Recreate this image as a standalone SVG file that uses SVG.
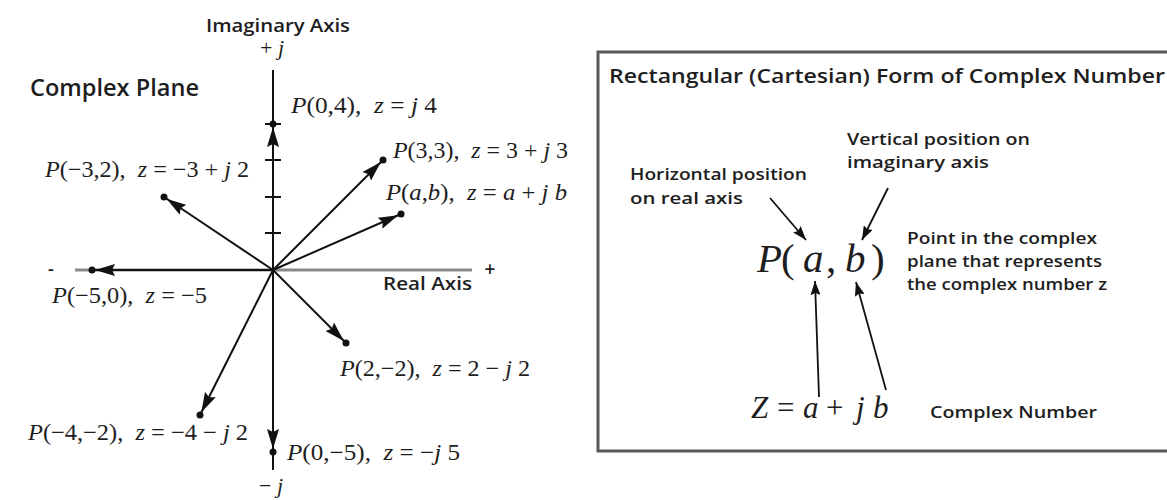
<svg xmlns="http://www.w3.org/2000/svg" width="1167" height="500" viewBox="0 0 1167 500">
<style>
.s{font-family:"Open Sans","Lato","DejaVu Sans",sans-serif;font-weight:600;fill:#1e1e1e}
.m{font-family:"Liberation Serif","Times New Roman",serif;font-size:23px;fill:#1e1e1e;white-space:pre}
.big{font-family:"Liberation Serif","Times New Roman",serif;font-size:41px;fill:#1e1e1e}
.eq{font-family:"Liberation Serif","Times New Roman",serif;font-size:31px;fill:#1e1e1e}
.i{font-style:italic}
.ax{stroke:#111;stroke-width:2;fill:none}
.rax{stroke:#8a8a8a;stroke-width:3;fill:none}
.vec{stroke:#111;stroke-width:2;fill:none;marker-end:url(#ah)}
.ptr{stroke:#111;stroke-width:1.8;fill:none;marker-end:url(#sh)}
.dot{fill:#111}
</style>
<defs>
<marker id="ah" markerUnits="userSpaceOnUse" markerWidth="24" markerHeight="12" refX="23" refY="6" orient="auto" viewBox="0 0 24 12">
<path d="M0,0 L20,6 L0,12 L3,6 z" fill="#111"/>
</marker>
<marker id="sh" markerUnits="userSpaceOnUse" markerWidth="15" markerHeight="10" refX="14" refY="5" orient="auto" viewBox="0 0 15 10">
<path d="M0,0 L14,5 L0,10 L2,5 z" fill="#111"/>
</marker>
</defs>
<rect width="1167" height="500" fill="#fff"/>

<g id="axes">
<line class="rax" x1="75" y1="270" x2="472" y2="270"/>
<line class="ax" x1="273" y1="70" x2="273" y2="470"/>
<line class="ax" x1="265" y1="124" x2="281" y2="124"/>
<line class="ax" x1="265" y1="160" x2="281" y2="160"/>
<line class="ax" x1="265" y1="197" x2="281" y2="197"/>
<line class="ax" x1="265" y1="233" x2="281" y2="233"/>
</g>

<g id="connectors">
<line class="vec" x1="273" y1="270" x2="273" y2="124"/>
<line class="vec" x1="273" y1="270" x2="383" y2="160"/>
<line class="vec" x1="273" y1="270" x2="164" y2="197"/>
<line class="vec" x1="273" y1="270" x2="401" y2="214"/>
<line class="vec" x1="273" y1="270" x2="92" y2="270"/>
<line class="vec" x1="273" y1="270" x2="346" y2="343"/>
<line class="vec" x1="273" y1="270" x2="200" y2="415"/>
<line class="vec" x1="273" y1="270" x2="273" y2="452"/>
<line class="ptr" x1="770" y1="198" x2="806" y2="240"/>
<line class="ptr" x1="888" y1="188" x2="862" y2="240"/>
<line class="ptr" x1="819" y1="397" x2="815" y2="281"/>
<line class="ptr" x1="886" y1="390" x2="856" y2="282"/>
</g>

<g id="points">
<circle class="dot" cx="273" cy="124" r="3.5"/>
<circle class="dot" cx="383" cy="160" r="3.5"/>
<circle class="dot" cx="164" cy="197" r="3.5"/>
<circle class="dot" cx="401" cy="214" r="3.5"/>
<circle class="dot" cx="92" cy="270" r="3.5"/>
<circle class="dot" cx="346" cy="343" r="3.5"/>
<circle class="dot" cx="200" cy="415" r="3.5"/>
<circle class="dot" cx="273" cy="452" r="3.5"/>
</g>

<g id="axis-labels">
<text class="s" x="206" y="32" font-size="18" textLength="144" lengthAdjust="spacingAndGlyphs">Imaginary Axis</text>
<text class="m" x="260" y="55" style="font-size:22px">+ <tspan class="i">j</tspan></text>
<text class="s" x="30" y="96" font-size="23" textLength="169" lengthAdjust="spacingAndGlyphs">Complex Plane</text>
<text class="s" x="383" y="290" font-size="18" textLength="89" lengthAdjust="spacingAndGlyphs">Real Axis</text>
<text class="s" x="51" y="275" font-size="18" text-anchor="middle">-</text>
<text class="s" x="490" y="276" font-size="19" text-anchor="middle">+</text>
<text class="m" x="259" y="493" style="font-size:22px">− <tspan class="i">j</tspan></text>
</g>

<g id="label-p04"><text class="m" x="291" y="113" textLength="146" lengthAdjust="spacingAndGlyphs"><tspan class="i">P</tspan>(0,4),  <tspan class="i">z</tspan> = <tspan class="i">j</tspan> 4</text></g>
<g id="label-p33"><text class="m" x="393" y="158" textLength="175" lengthAdjust="spacingAndGlyphs"><tspan class="i">P</tspan>(3,3),  <tspan class="i">z</tspan> = 3 + <tspan class="i">j</tspan> 3</text></g>
<g id="label-pm32"><text class="m" x="45" y="177" textLength="204" lengthAdjust="spacingAndGlyphs"><tspan class="i">P</tspan>(−3,2),  <tspan class="i">z</tspan> = −3 + <tspan class="i">j</tspan> 2</text></g>
<g id="label-pab"><text class="m" x="386" y="200" textLength="181" lengthAdjust="spacingAndGlyphs"><tspan class="i">P</tspan>(<tspan class="i">a</tspan>,<tspan class="i">b</tspan>),  <tspan class="i">z</tspan> = <tspan class="i">a</tspan> + <tspan class="i">j b</tspan></text></g>
<g id="label-pm50"><text class="m" x="52" y="303" textLength="155" lengthAdjust="spacingAndGlyphs"><tspan class="i">P</tspan>(−5,0),  <tspan class="i">z</tspan> = −5</text></g>
<g id="label-p2m2"><text class="m" x="340" y="376" textLength="190" lengthAdjust="spacingAndGlyphs"><tspan class="i">P</tspan>(2,−2),  <tspan class="i">z</tspan> = 2 − <tspan class="i">j</tspan> 2</text></g>
<g id="label-pm4m2"><text class="m" x="28" y="440" textLength="220" lengthAdjust="spacingAndGlyphs"><tspan class="i">P</tspan>(−4,−2),  <tspan class="i">z</tspan> = −4 − <tspan class="i">j</tspan> 2</text></g>
<g id="label-p0m5"><text class="m" x="287" y="460" textLength="173" lengthAdjust="spacingAndGlyphs"><tspan class="i">P</tspan>(0,−5),  <tspan class="i">z</tspan> = −<tspan class="i">j</tspan> 5</text></g>

<g id="box">
<rect x="598" y="52" width="600" height="399" fill="none" stroke="#5a5a5a" stroke-width="3"/>
<text class="s" x="609" y="83" font-size="20" textLength="556" lengthAdjust="spacingAndGlyphs">Rectangular (Cartesian) Form of Complex Number</text>
</g>
<g id="note-vertical">
<text class="s" x="847" y="145" font-size="16" textLength="183" lengthAdjust="spacingAndGlyphs">Vertical position on</text>
<text class="s" x="847" y="168" font-size="16" textLength="142" lengthAdjust="spacingAndGlyphs">imaginary axis</text>
</g>
<g id="note-horizontal">
<text class="s" x="630" y="180" font-size="16" textLength="177" lengthAdjust="spacingAndGlyphs">Horizontal position</text>
<text class="s" x="630" y="204" font-size="16" textLength="113" lengthAdjust="spacingAndGlyphs">on real axis</text>
</g>
<g id="note-point">
<text class="s" x="907" y="244" font-size="16" textLength="190" lengthAdjust="spacingAndGlyphs">Point in the complex</text>
<text class="s" x="907" y="267" font-size="16" textLength="195" lengthAdjust="spacingAndGlyphs">plane that represents</text>
<text class="s" x="907" y="290" font-size="16" textLength="200" lengthAdjust="spacingAndGlyphs">the complex number z</text>
</g>
<g id="pab-big">
<text class="big i" x="757" y="272">P</text>
<text class="big" x="781" y="272">(</text>
<text class="big i" x="803" y="272">a</text>
<text class="big" x="826" y="272">,</text>
<text class="big i" x="845" y="272">b</text>
<text class="big" x="871" y="272">)</text>
</g>
<g id="z-eq">
<text class="eq i" x="751" y="418">Z</text>
<text class="eq" x="777" y="418">=</text>
<text class="eq i" x="803" y="418">a</text>
<text class="eq" x="826" y="418">+</text>
<text class="eq i" x="856" y="418">j</text>
<text class="eq i" x="873" y="418">b</text>
</g>
<g id="note-complex">
<text class="s" x="930" y="418" font-size="16" textLength="167" lengthAdjust="spacingAndGlyphs">Complex Number</text>
</g>
</svg>
